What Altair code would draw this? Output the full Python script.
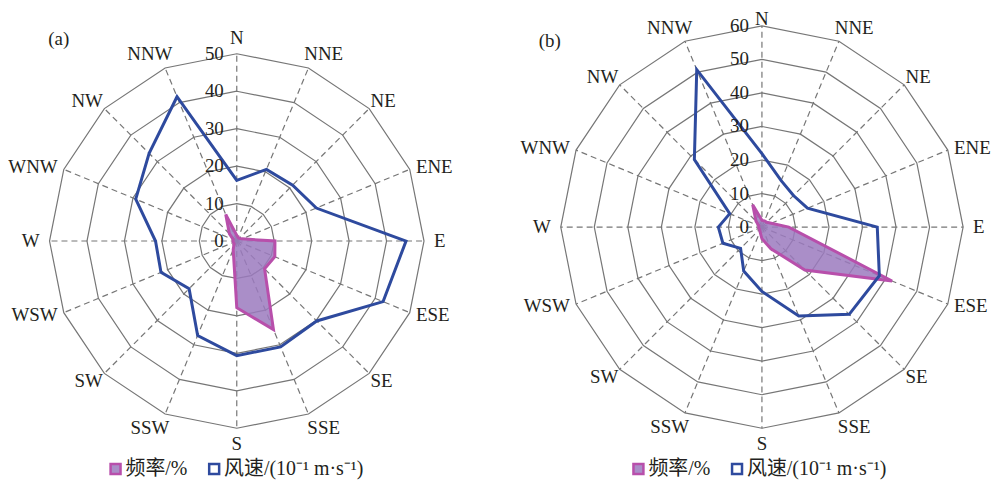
import altair as alt
import pandas as pd

# ---------------- data ----------------
directions = ["N", "NNE", "NE", "ENE", "E", "ESE", "SE", "SSE",
              "S", "SSW", "SW", "WSW", "W", "WNW", "NW", "NNW"]

# panel (a)
freq_a = [1.5, 1.0, 1.0, 1.5, 10.2, 11.0, 10.5, 25.6, 17.8, 2.5, 1.0, 1.0, 1.0, 1.0, 2.8, 7.7]
wind_a = [16.2, 20.7, 21.1, 23.0, 45.2, 42.3, 30.2, 30.6, 30.6, 27.3, 18.0, 21.9, 21.7, 29.2, 33.1, 41.7]
# panel (b)
freq_b = [2.0, 2.0, 2.0, 3.0, 8.0, 42.0, 18.1, 7.0, 3.5, 1.5, 1.0, 1.0, 1.0, 1.0, 2.5, 7.2]
wind_b = [21.9, 15.0, 13.3, 14.7, 34.4, 37.9, 36.8, 28.7, 19.2, 14.2, 9.0, 12.6, 13.0, 10.4, 28.5, 50.8]

ticks_a = [0, 10, 20, 30, 40, 50]
ticks_b = [0, 10, 20, 30, 40, 50, 60]

series_names = ["频率/%", "风速/(10⁻¹ m·s⁻¹)"]
panel_labels = ["(a)", "(b)"]

# ---------------- style ----------------
FONT = "Liberation Serif, Noto Sans CJK SC"
TXT = "#231f20"
GRID = "#767676"
PINK = "#b84fab"
FILL = "rgba(155,122,190,0.85)"
BLUE = "#2e4a9e"

n = len(directions)
ANG = f"datum.i * 2 * PI / {n}"


def panel(freq, wind, ticks, label, W, H, cx, cy, rpx, leg_xy, lab_xy):
    rmax = ticks[-1]
    k = rpx / rmax  # pixels per data unit
    ytop = cy / k
    xs = alt.Scale(domain=[-cx / k, (W - cx) / k], nice=False, zero=False)
    ys = alt.Scale(domain=[-(H - cy) / k, ytop], nice=False, zero=False)

    def X(f):
        return alt.X(f, type="quantitative", scale=xs, axis=None)

    def Y(f):
        return alt.Y(f, type="quantitative", scale=ys, axis=None)

    # rings
    ring_df = pd.DataFrame([{"level": L, "i": i} for L in ticks[1:] for i in range(n)])
    rings = (
        alt.Chart(ring_df)
        .transform_calculate(th=ANG)
        .transform_calculate(x="datum.level * sin(datum.th)", y="datum.level * cos(datum.th)")
        .mark_line(interpolate="linear-closed", stroke=GRID, strokeWidth=1.2)
        .encode(x=X("x"), y=Y("y"), detail="level:Q", order="i:Q")
    )

    # spokes
    dir_df = pd.DataFrame({"i": list(range(n)), "dir": directions})
    spokes = (
        alt.Chart(dir_df)
        .transform_calculate(th=ANG)
        .transform_calculate(x0="0", y0="0",
                             xe=f"{rmax} * sin(datum.th)", ye=f"{rmax} * cos(datum.th)")
        .mark_rule(stroke=GRID, strokeWidth=1.2, strokeDash=[6, 4])
        .encode(x=X("x0"), y=Y("y0"), x2="xe:Q", y2="ye:Q")
    )

    # series
    ser_df = pd.DataFrame([
        {"i": i, "dir": d, "series": s, "value": v}
        for s, vals in zip(series_names, (freq, wind))
        for i, (d, v) in enumerate(zip(directions, vals))
    ])
    legend = alt.Legend(
        orient="none", legendX=leg_xy[0], legendY=leg_xy[1], direction="horizontal",
        title=None, symbolType="square", symbolSize=100, symbolStrokeWidth=2.5,
        labelFont=FONT, labelFontSize=20, labelColor=TXT, columnPadding=16, labelOffset=0,
        padding=0, symbolOffset=0,
    )
    series = (
        alt.Chart(ser_df)
        .transform_calculate(th=ANG)
        .transform_calculate(x="datum.value * sin(datum.th)", y="datum.value * cos(datum.th)")
        .mark_line(interpolate="linear-closed", strokeWidth=3)
        .encode(
            x=X("x"), y=Y("y"), order="i:Q",
            stroke=alt.Stroke("series:N", scale=alt.Scale(domain=series_names, range=[PINK, BLUE]), legend=legend),
            fill=alt.Fill("series:N", scale=alt.Scale(domain=series_names, range=[FILL, "transparent"]), legend=legend),
        )
    )

    # direction labels
    lab_base = (
        alt.Chart(dir_df)
        .transform_calculate(th=ANG)
        .transform_calculate(s="sin(datum.th)", c="cos(datum.th)")
        .transform_calculate(
            ox="abs(datum.s) < 0.5 ? 40 * datum.s : (datum.s > 0 ? 1 : -1) * (10 * abs(datum.s) - 8 * abs(datum.c))",
            oy="16 * datum.c * abs(datum.c)",
        )
        .transform_calculate(
            lx=f"{rmax} * datum.s + datum.ox / {k}",
            ly=f"min({rmax} * datum.c + datum.oy / {k}, {ytop} - 10 / {k})",
        )
    )
    lab_kw = dict(font=FONT, fontSize=19, color=TXT, baseline="middle")
    lab_e = lab_base.transform_filter("datum.s >= 0.5").mark_text(align="left", **lab_kw).encode(
        x=X("lx"), y=Y("ly"), text="dir:N")
    lab_w = lab_base.transform_filter("datum.s <= -0.5").mark_text(align="right", **lab_kw).encode(
        x=X("lx"), y=Y("ly"), text="dir:N")
    lab_c = lab_base.transform_filter("abs(datum.s) < 0.5").mark_text(align="center", **lab_kw).encode(
        x=X("lx"), y=Y("ly"), text="dir:N")

    # radial tick labels
    tick_df = pd.DataFrame({"t": ticks})
    tick_text = (
        alt.Chart(tick_df)
        .transform_calculate(tx=f"-13 / {k}")
        .mark_text(align="right", baseline="middle", font=FONT, fontSize=19, color=TXT)
        .encode(x=X("tx"), y=Y("t"), text="t:Q")
    )

    # panel label
    title = (
        alt.Chart(pd.DataFrame({"label": [label]}))
        .mark_text(align="center", baseline="middle", font=FONT, fontSize=19, color=TXT)
        .encode(x=alt.value(lab_xy[0]), y=alt.value(lab_xy[1]), text="label:N")
    )

    return alt.layer(rings, spokes, series, lab_e, lab_w, lab_c, tick_text, title).properties(
        width=W, height=H)


pa = panel(freq_a, wind_a, ticks_a, panel_labels[0], W=480, H=470, cx=228.7, cy=233, rpx=188,
           leg_xy=(97, 452), lab_xy=(50, 30))
pb = panel(freq_b, wind_b, ticks_b, panel_labels[1], W=483, H=470, cx=256, cy=219, rpx=202,
           leg_xy=(122, 452), lab_xy=(43, 32))

chart = (
    alt.hconcat(pa, pb, spacing=20)
    .resolve_scale(stroke="independent", fill="independent")
    .properties(padding=0, background="white")
    .configure_view(stroke=None)
)

chart.save("out.html", embed_options={"renderer": "svg", "actions": False})
